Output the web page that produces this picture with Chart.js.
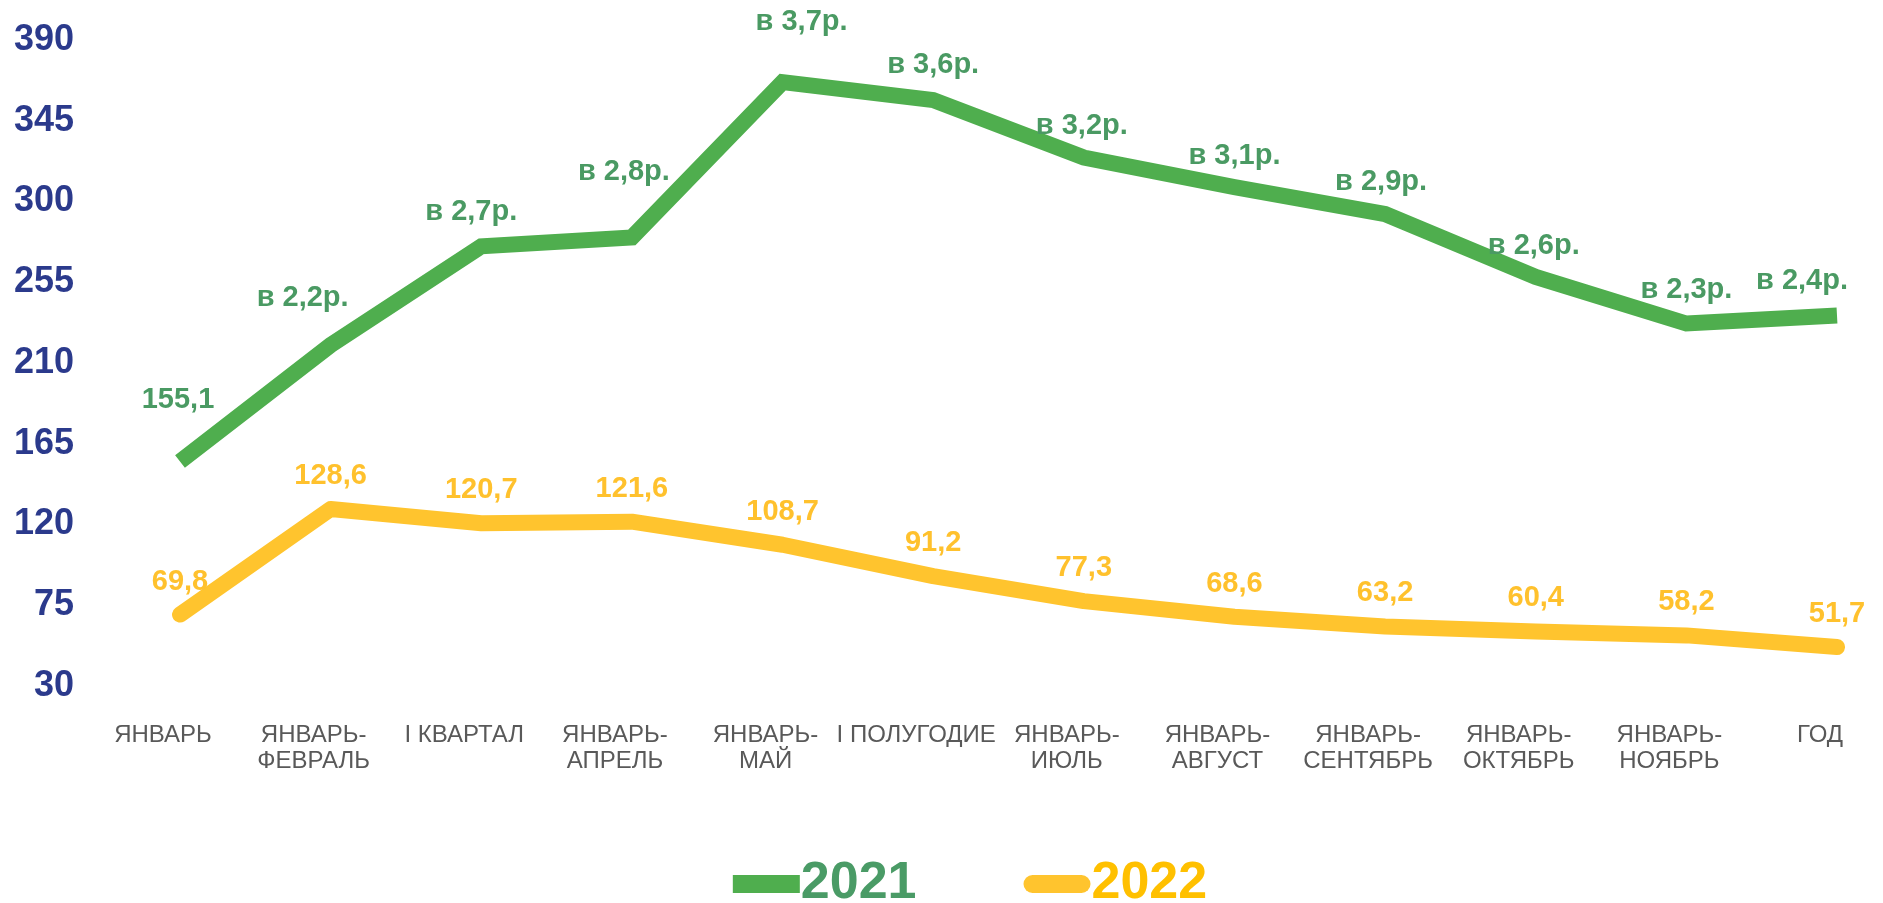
<!DOCTYPE html>
<html>
<head>
<meta charset="utf-8">
<script src="https://cdn.jsdelivr.net/npm/chart.js@4"></script>
<style>
  html, body { margin: 0; padding: 0; background: #fff; }
  #wrap { width: 1883px; height: 903px; }
</style>
</head>
<body>
<div id="wrap"><canvas id="grafico"></canvas></div>
<script>
const categorias = [
  "ЯНВАРЬ", ["ЯНВАРЬ-", "ФЕВРАЛЬ"], "І КВАРТАЛ", ["ЯНВАРЬ-", "АПРЕЛЬ"],
  ["ЯНВАРЬ-", "МАЙ"], "І ПОЛУГОДИЕ", ["ЯНВАРЬ-", "ИЮЛЬ"], ["ЯНВАРЬ-", "АВГУСТ"],
  ["ЯНВАРЬ-", "СЕНТЯБРЬ"], ["ЯНВАРЬ-", "ОКТЯБРЬ"], ["ЯНВАРЬ-", "НОЯБРЬ"], "ГОД"
];
const valores2021 = [155.1, 220, 275, 280, 366.5, 356.5, 324.5, 308, 293, 258, 232, 236.5];
const valores2022 = [69.8, 128.6, 120.7, 121.6, 108.7, 91.2, 77.3, 68.6, 63.2, 60.4, 58.2, 51.7];
const etiquetas2021 = ["155,1", "в 2,2р.", "в 2,7р.", "в 2,8р.", "в 3,7р.", "в 3,6р.",
  "в 3,2р.", "в 3,1р.", "в 2,9р.", "в 2,6р.", "в 2,3р.", "в 2,4р."];
const ejeY = { min: 30, max: 390, paso: 45 };

// desplazamiento de las etiquetas respecto al punto [dx, arriba]
const ajuste2021 = [[-2, 62], [-28, 47], [-10, 34], [-8, 65], [19, 60], [0, 35],
  [-2, 32], [0, 31], [-4, 32], [-2, 31], [0, 34], [-35, 34]];

const fuente = '"Liberation Sans", Arial, sans-serif';

const etiquetasPlugin = {
  id: "etiquetas",
  afterDatasetsDraw(chart) {
    const ctx = chart.ctx;
    ctx.save();
    ctx.font = "bold 29px " + fuente;
    ctx.textAlign = "center";
    ctx.textBaseline = "middle";
    chart.getDatasetMeta(0).data.forEach((p, i) => {
      ctx.fillStyle = "#4A9A63";
      ctx.fillText(etiquetas2021[i], p.x + ajuste2021[i][0], p.y - ajuste2021[i][1]);
    });
    chart.getDatasetMeta(1).data.forEach((p, i) => {
      ctx.fillStyle = "#FFC12D";
      ctx.fillText(valores2022[i].toFixed(1).replace(".", ","), p.x, p.y - 33);
    });
    ctx.restore();
  }
};

const leyendaPlugin = {
  id: "leyenda",
  afterDraw(chart) {
    const ctx = chart.ctx;
    ctx.save();
    ctx.font = "bold 52px " + fuente;
    ctx.textBaseline = "middle";
    const items = chart.data.datasets.map(d => ({
      texto: d.label, color: d.borderColor, textoColor: d.legendColor, redondo: d.borderCapStyle === "round"
    }));
    const caja = 67, hueco = 1, entre = 107;
    let total = 0;
    items.forEach((it, i) => {
      it.w = ctx.measureText(it.texto).width;
      total += caja + hueco + it.w + (i < items.length - 1 ? entre : 0);
    });
    let x = 970 - total / 2;
    const y = 884;
    items.forEach(it => {
      ctx.fillStyle = it.color;
      ctx.beginPath();
      if (it.redondo) {
        ctx.roundRect(x, y - 9, caja, 18, 9);
      } else {
        ctx.rect(x, y - 9, caja, 18);
      }
      ctx.fill();
      ctx.fillStyle = it.textoColor;
      ctx.fillText(it.texto, x + caja + hueco, y);
      x += caja + hueco + it.w + entre;
    });
    ctx.restore();
  }
};

const ctx = document.getElementById("grafico").getContext("2d");
const chart = new Chart(ctx, {
  type: "line",
  data: {
    labels: categorias,
    datasets: [
      {
        label: "2021",
        data: valores2021,
        borderColor: "#4FAE4E",
        legendColor: "#4A9B66",
        borderWidth: 16,
        borderCapStyle: "butt",
        borderJoinStyle: "miter",
        pointRadius: 0,
        tension: 0
      },
      {
        label: "2022",
        data: valores2022,
        borderColor: "#FFC42E",
        legendColor: "#FFC000",
        borderWidth: 16,
        borderCapStyle: "round",
        borderJoinStyle: "round",
        pointRadius: 0,
        tension: 0
      }
    ]
  },
  options: {
    responsive: true,
    maintainAspectRatio: false,
    animation: false,
    layout: { padding: { top: 40, right: 46, left: 14, bottom: 0 } },
    plugins: {
      legend: { display: false },
      tooltip: { enabled: false }
    },
    scales: {
      x: {
        offset: false,
        grid: { display: false, drawTicks: false },
        border: { display: false },
        ticks: {
          color: "#595959",
          font: { family: fuente, size: 24, lineHeight: 1.1 },
          padding: 36,
          labelOffset: -17,
          maxRotation: 0,
          autoSkip: false
        },
        afterFit(scale) {
          scale.height = 217;
          scale.paddingLeft = 0;
          scale.paddingRight = 0;
        }
      },
      y: {
        min: ejeY.min,
        max: ejeY.max,
        grid: { display: false, drawTicks: false },
        border: { display: false },
        ticks: {
          stepSize: ejeY.paso,
          color: "#2B3A8C",
          font: { family: fuente, size: 36, weight: "bold" },
          padding: 106
        },
        afterFit(scale) {
          scale.width = 166;
          scale.paddingTop = 0;
          scale.paddingBottom = 0;
        }
      }
    }
  },
  plugins: [etiquetasPlugin, leyendaPlugin]
});
</script>
</body>
</html>
